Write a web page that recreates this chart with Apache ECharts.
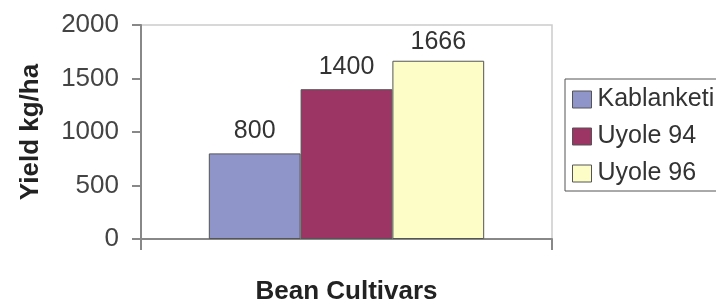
<!DOCTYPE html>
<html>
<head>
<meta charset="utf-8">
<script src="https://cdn.jsdelivr.net/npm/echarts@6/dist/echarts.min.js"></script>
<style>
  html, body { margin: 0; padding: 0; background: #fff; }
  #chart { width: 716px; height: 300px; }
</style>
</head>
<body>
<div id="chart"></div>
<script>
  // data
  const categories = ['']
  const cultivars = ['Kablanketi', 'Uyole 94', 'Uyole 96']
  const yields = [800, 1400, 1666]
  const colors = ['#8f95c9', '#9c3464', '#fdfdc8']
  const labelGaps = [10, 10, 6]

  const chart = echarts.init(document.getElementById('chart'))
  const font = 'Liberation Sans, Arial, sans-serif'

  const series = cultivars.map((name, i) => ({
    name: name,
    type: 'bar',
    data: [yields[i]],
    barGap: '0%',
    barCategoryGap: '33%',
    itemStyle: { color: colors[i], borderColor: '#555', borderWidth: 1 },
    label: {
      show: true,
      position: 'top',
      distance: labelGaps[i],
      fontFamily: font,
      fontSize: 25,
      color: '#333'
    }
  }))

  const option = {
    animation: false,
    grid: { left: 141, top: 25, right: 164, bottom: 61, outerBoundsMode: 'none' },
    legend: {
      orient: 'vertical',
      left: 565,
      top: 79,
      data: cultivars,
      icon: 'rect',
      itemWidth: 19,
      itemHeight: 17,
      itemGap: 12,
      padding: [8, 40, 5, 7],
      borderColor: '#555',
      borderWidth: 1,
      borderRadius: 0,
      itemStyle: { borderColor: '#555', borderWidth: 1 },
      textStyle: { fontFamily: font, fontSize: 25, color: '#333', padding: [0, 0, 0, 1] }
    },
    xAxis: {
      type: 'category',
      data: categories,
      name: 'Bean Cultivars',
      nameLocation: 'middle',
      nameGap: 40,
      nameTextStyle: { fontFamily: font, fontSize: 26, fontWeight: 'bold', color: '#222' },
      axisLine: { lineStyle: { color: '#888', width: 2 } },
      axisTick: { show: true, length: 11, lineStyle: { color: '#888', width: 2 } },
      axisLabel: { show: false }
    },
    yAxis: {
      type: 'value',
      min: 0,
      max: 2000,
      interval: 500,
      name: 'Yield kg/ha',
      nameLocation: 'middle',
      nameGap: 97,
      nameTextStyle: { fontFamily: font, fontSize: 26, fontWeight: 'bold', color: '#222' },
      axisLine: { show: true, lineStyle: { color: '#888', width: 2 } },
      axisTick: { show: true, length: 9, lineStyle: { color: '#888', width: 2 } },
      axisLabel: { fontFamily: font, fontSize: 26, color: '#444', margin: 22, formatter: v => String(v) },
      splitLine: { show: false }
    },
    graphic: [{
      type: 'polyline',
      shape: { points: [[141, 25], [552, 25], [552, 239]] },
      style: { stroke: '#ccc', lineWidth: 1.5, fill: null },
      z: 0
    }],
    series: series
  }

  chart.setOption(option)
</script>
</body>
</html>
